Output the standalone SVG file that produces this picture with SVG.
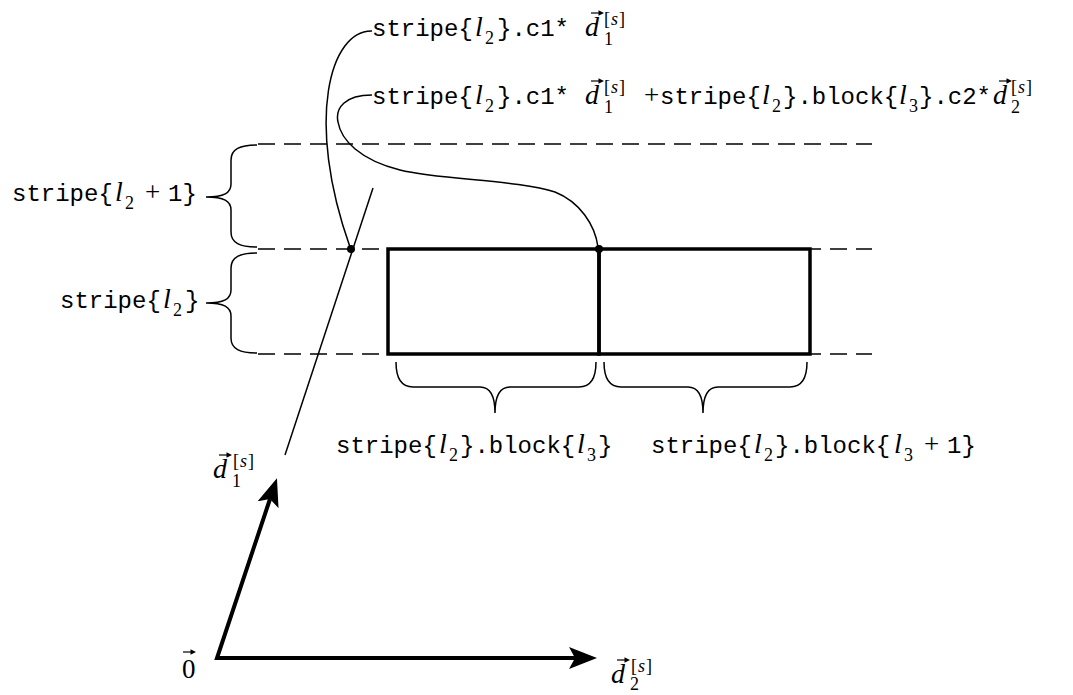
<svg xmlns="http://www.w3.org/2000/svg" xmlns:xlink="http://www.w3.org/1999/xlink" width="1073" height="695" viewBox="0 0 1073 695">
<style>
.mono{font-family:"Liberation Mono",monospace;font-size:24px;fill:#000}
.mi{font-family:"Liberation Serif",serif;font-style:italic;font-size:28px;fill:#000}
.rm{font-family:"Liberation Serif",serif;font-size:27px;fill:#000}
.sm{font-family:"Liberation Serif",serif;font-size:18px;fill:#000}
.sup{letter-spacing:1px}
.smi{font-style:italic}
.dash{stroke:#000;stroke-width:1.5;stroke-dasharray:17 9;fill:none}
.brace{stroke:#000;stroke-width:1.5;fill:none}
.thin{stroke:#000;stroke-width:1.5;fill:none}
.block{stroke:#000;stroke-width:3.5;fill:none}
.thick{stroke:#000;stroke-width:4;fill:none;stroke-linejoin:miter}
</style>
<defs>
<g id="va"><path d="M0,0 H10" stroke="#000" stroke-width="1.2"/><path d="M13,0 L7.5,-2.8 L7.5,2.8 z" fill="#000"/></g>
<marker id="ah" markerUnits="userSpaceOnUse" markerWidth="30" markerHeight="22" refX="6" refY="11" orient="auto-start-reverse" viewBox="0 0 30 22"><path d="M0,0 L28,11 L0,22 L6,11 z" fill="#000"/></marker>
</defs>

<g id="gridlines">
<path class="dash" d="M258,144 H872"/>
<path class="dash" d="M258,249 H872"/>
<path class="dash" d="M258,354 H872"/>
</g>

<g id="block-l3">
<rect class="block" x="388" y="249" width="211" height="105"/>
</g>
<g id="block-l3p1">
<rect class="block" x="599" y="249" width="211" height="105"/>
</g>

<g id="stripe-l2p1">
<path class="brace" d="M257,145 C240,145 231,149 231,160 L231,184 C231,193 224,197 206,197 C224,197 231,201 231,210 L231,232 C231,243 240,247 257,247"/>
<text class="mono" x="12" y="201">stripe{</text>
<text class="mi" x="115" y="201">l</text>
<text class="sm" x="125" y="209">2</text>
<text class="rm" x="145" y="201">+</text>
<text class="mono" x="168" y="201">1}</text>
</g>

<g id="stripe-l2">
<path class="brace" d="M257,253 C240,253 231,257 231,268 L231,290 C231,299 224,303 206,303 C224,303 231,307 231,316 L231,338 C231,349 240,353 257,353"/>
<text class="mono" x="60" y="308">stripe{</text>
<text class="mi" x="163" y="308">l</text>
<text class="sm" x="173" y="316">2</text>
<text class="mono" x="185" y="308">}</text>
</g>

<g id="label-block-l3">
<path class="brace" d="M396,362 C396,378 401,387 413,387 L480,387 C489,387 495,393 495,413 C495,393 501,387 510,387 L579,387 C591,387 596,378 596,362"/>
<text class="mono" x="336" y="453">stripe{</text>
<text class="mi" x="439" y="453">l</text>
<text class="sm" x="449" y="461">2</text>
<text class="mono" x="460" y="453">}.block{</text>
<text class="mi" x="577" y="453">l</text>
<text class="sm" x="587" y="461">3</text>
<text class="mono" x="598" y="453">}</text>
</g>

<g id="label-block-l3p1">
<path class="brace" d="M604,362 C604,378 609,387 621,387 L688,387 C697,387 703,393 703,413 C703,393 709,387 718,387 L790,387 C802,387 807,378 807,362"/>
<text class="mono" x="651" y="453">stripe{</text>
<text class="mi" x="754" y="453">l</text>
<text class="sm" x="764" y="461">2</text>
<text class="mono" x="775" y="453">}.block{</text>
<text class="mi" x="894" y="453">l</text>
<text class="sm" x="904" y="461">3</text>
<text class="rm" x="924" y="453">+</text>
<text class="mono" x="947" y="453">1}</text>
</g>

<g id="label-c1">
<text class="mono" x="372" y="36">stripe{</text>
<text class="mi" x="475" y="36">l</text>
<text class="sm" x="485" y="44">2</text>
<text class="mono" x="497" y="36">}.c1*</text>
<text class="mi" x="585" y="36">d</text>
<use xlink:href="#va" x="591" y="13"/>
<text class="sm" x="604" y="45">1</text>
<text class="sm sup" x="604" y="25">[<tspan class="smi">s</tspan>]</text>
</g>

<g id="label-sum">
<text class="mono" x="372" y="104">stripe{</text>
<text class="mi" x="475" y="104">l</text>
<text class="sm" x="485" y="112">2</text>
<text class="mono" x="497" y="104">}.c1*</text>
<text class="mi" x="585" y="104">d</text>
<use xlink:href="#va" x="591" y="81"/>
<text class="sm" x="604" y="113">1</text>
<text class="sm sup" x="604" y="93">[<tspan class="smi">s</tspan>]</text>
<text class="rm" x="644" y="104">+</text>
<text class="mono" x="660" y="104">stripe{</text>
<text class="mi" x="762" y="104">l</text>
<text class="sm" x="772" y="112">2</text>
<text class="mono" x="783" y="104">}.block{</text>
<text class="mi" x="899" y="104">l</text>
<text class="sm" x="909" y="112">3</text>
<text class="mono" x="919" y="104">}.c2*</text>
<text class="mi" x="993" y="104">d</text>
<use xlink:href="#va" x="999" y="81"/>
<text class="sm" x="1011" y="113">2</text>
<text class="sm sup" x="1011" y="93">[<tspan class="smi">s</tspan>]</text>
</g>

<g id="label-d1">
<text class="mi" x="213" y="478">d</text>
<use xlink:href="#va" x="219" y="455"/>
<text class="sm" x="232" y="487">1</text>
<text class="sm sup" x="233" y="467">[<tspan class="smi">s</tspan>]</text>
</g>

<g id="label-zero">
<text class="rm" x="182" y="678">0</text>
<use xlink:href="#va" x="183" y="652"/>
</g>

<g id="label-d2">
<text class="mi" x="611" y="683">d</text>
<use xlink:href="#va" x="617" y="660"/>
<text class="sm" x="630" y="690">2</text>
<text class="sm sup" x="631" y="672">[<tspan class="smi">s</tspan>]</text>
</g>

<g id="connectors">
<path class="thin" d="M285,455 L373,188"/>
<path class="thin" d="M372,31 C330,30 305,120 350,247"/>
<path class="thin" d="M372,95 C345,95 335,108 338,122 C341,140 360,160 400,170 C440,180 520,180 555,192 C580,202 595,225 598,247"/>
<circle cx="351" cy="249" r="4" fill="#000"/>
<circle cx="599" cy="249" r="4" fill="#000"/>
<path class="thick" d="M270,499 L217,658 L575,658" marker-start="url(#ah)" marker-end="url(#ah)"/>
</g>
</svg>
